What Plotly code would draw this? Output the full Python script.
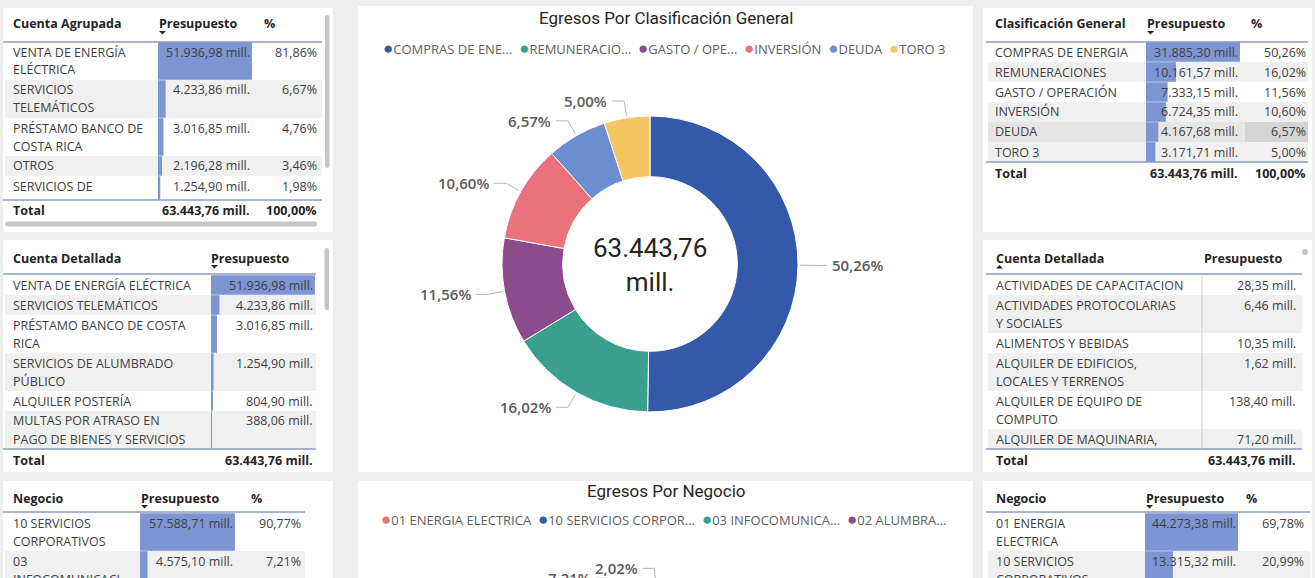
import math
import plotly.graph_objects as go

W, H = 1315, 578

# ---------------------------------------------------------------- data
TOTAL_PRESUPUESTO = 63443.76

agrupada_cuenta = ["VENTA DE ENERGÍA ELÉCTRICA", "SERVICIOS TELEMÁTICOS",
                   "PRÉSTAMO BANCO DE COSTA RICA", "OTROS",
                   "SERVICIOS DE ALUMBRADO PÚBLICO"]
agrupada_presupuesto = [51936.98, 4233.86, 3016.85, 2196.28, 1254.90]

detallada_cuenta = ["VENTA DE ENERGÍA ELÉCTRICA", "SERVICIOS TELEMÁTICOS",
                    "PRÉSTAMO BANCO DE COSTA RICA", "SERVICIOS DE ALUMBRADO PÚBLICO",
                    "ALQUILER POSTERÍA",
                    "MULTAS POR ATRASO EN PAGO DE BIENES Y SERVICIOS"]
detallada_presupuesto = [51936.98, 4233.86, 3016.85, 1254.90, 804.90, 388.06]

negocio_ing_nombre = ["10 SERVICIOS CORPORATIVOS", "03 INFOCOMUNICACIONES"]
negocio_ing_presupuesto = [57588.71, 4575.10]

clasif_nombre = ["COMPRAS DE ENERGIA", "REMUNERACIONES", "GASTO / OPERACIÓN",
                 "INVERSIÓN", "DEUDA", "TORO 3"]
clasif_presupuesto = [31885.30, 10161.57, 7333.15, 6724.35, 4167.68, 3171.71]
clasif_leyenda = ["COMPRAS DE ENE...", "REMUNERACIO...", "GASTO / OPE...",
                  "INVERSIÓN", "DEUDA", "TORO 3"]
clasif_color = ["#3559a9", "#3a9f8f", "#8b4b8c", "#e8737d", "#6b8fd0", "#f5c662"]

gasto_cuenta = ["ACTIVIDADES DE CAPACITACION", "ACTIVIDADES PROTOCOLARIAS Y SOCIALES",
                "ALIMENTOS Y BEBIDAS", "ALQUILER DE EDIFICIOS, LOCALES Y TERRENOS",
                "ALQUILER DE EQUIPO DE COMPUTO",
                "ALQUILER DE MAQUINARIA, EQUIPO Y MOBILIARIO"]
gasto_presupuesto = [28.35, 6.46, 10.35, 1.62, 138.40, 71.20]

negocio_nombre = ["01 ENERGIA ELECTRICA", "10 SERVICIOS CORPORATIVOS",
                  "03 INFOCOMUNICACIONES", "02 ALUMBRADO PUBLICO"]
negocio_presupuesto = [44273.38, 13315.32, 4575.10, 1279.96]
negocio_leyenda = ["01 ENERGIA ELECTRICA", "10 SERVICIOS CORPOR...",
                   "03 INFOCOMUNICA...", "02 ALUMBRA..."]
negocio_color = ["#e8737d", "#3559a9", "#3a9f8f", "#8b4b8c"]

# ---------------------------------------------------------------- style
FONT = "Segoe UI, Open Sans, sans-serif"
TITLE_FONT = "DIN, Roboto, sans-serif"
BG = "#eeeeee"
PANEL = "#ffffff"
ROW_ALT = "#f0f0f0"
BAR = "#7d95d3"
RULE = "#8d9abd"
TXT = "#404040"
HDR = "#252423"
MUTED = "#605e5c"
SCROLL = "#c6c6c6"
BODY_SIZE = 12.5

fig = go.Figure()
shapes, annotations, axes = [], [], {}


def fmt_es(v, dec=2):
    s = f"{v:,.{dec}f}"
    return s.replace(",", "_").replace(".", ",").replace("_", ".")


def fmt_mill(v):
    return fmt_es(v) + " mill."


def fmt_pct(p):
    return fmt_es(p) + "%"


# approximate glyph widths (em) used to wrap cell text
CHAR_EM = {" ": .27, ",": .25, ".": .25, "/": .4, "A": .67, "Á": .67, "B": .6,
           "C": .63, "D": .72, "E": .52, "É": .52, "F": .5, "G": .7, "H": .74,
           "I": .27, "Í": .27, "J": .35, "K": .6, "L": .48, "M": .9, "N": .76,
           "O": .77, "Ó": .77, "P": .58, "Q": .77, "R": .6, "S": .54, "T": .55,
           "U": .72, "Ú": .72, "V": .65, "W": .97, "X": .62, "Y": .58, "Z": .59}


def text_em(s):
    return sum(CHAR_EM.get(c, .55) for c in s)


def wrap(text, max_em):
    lines, cur = [], ""
    for word in text.split(" "):
        trial = word if not cur else cur + " " + word
        if text_em(trial) <= max_em:
            cur = trial
            continue
        if cur:
            lines.append(cur)
        while text_em(word) > max_em:
            cut = len(word)
            while cut > 1 and text_em(word[:cut]) > max_em:
                cut -= 1
            lines.append(word[:cut])
            word = word[cut:]
        cur = word
    if cur:
        lines.append(cur)
    return lines


def rect(x0, y0, x1, y1, color):
    shapes.append(dict(type="rect", xref="x", yref="y", x0=x0, y0=y0, x1=x1, y1=y1,
                       fillcolor=color, line=dict(width=0), layer="below"))


def hline(x0, x1, y, color=RULE, width=1.3):
    shapes.append(dict(type="line", xref="x", yref="y", x0=x0, x1=x1, y0=y, y1=y,
                       line=dict(color=color, width=width), layer="below"))


def vline(x, y0, y1, color="#c9cfdf", width=1):
    shapes.append(dict(type="line", xref="x", yref="y", x0=x, x1=x, y0=y0, y1=y1,
                       line=dict(color=color, width=width), layer="below"))


def pill(x0, y0, x1, y1, color=SCROLL):
    r = min(x1 - x0, y1 - y0) / 2
    path = (f"M{x0 + r},{y0} L{x1 - r},{y0} Q{x1},{y0} {x1},{y0 + r} "
            f"L{x1},{y1 - r} Q{x1},{y1} {x1 - r},{y1} L{x0 + r},{y1} "
            f"Q{x0},{y1} {x0},{y1 - r} L{x0},{y0 + r} Q{x0},{y0} {x0 + r},{y0} Z")
    shapes.append(dict(type="path", xref="x", yref="y", path=path, fillcolor=color,
                       line=dict(width=0), layer="below"))


def sort_arrow(x, y, down=True):
    if down:
        path = f"M{x},{y} L{x + 7},{y} L{x + 3.5},{y + 3.5} Z"
    else:
        path = f"M{x},{y + 3.5} L{x + 7},{y + 3.5} L{x + 3.5},{y} Z"
    shapes.append(dict(type="path", xref="x", yref="y", path=path, fillcolor=HDR,
                       line=dict(width=0), layer="below"))


def text(x, y, s, size=BODY_SIZE, color=TXT, anchor="left", family=FONT, weight="normal"):
    annotations.append(dict(xref="paper", yref="paper", x=x / W, y=1 - y / H, text=s,
                            showarrow=False, xanchor=anchor, yanchor="middle",
                            borderpad=0, align="center",
                            font=dict(family=family, size=size, color=color,
                                      weight=weight)))


# ---------------------------------------------------------------- panels
for x0, y0, x1, y1 in [(3, 8, 333, 232), (3, 240, 333, 472), (3, 481, 333, 600),
                       (358, 6, 973, 472), (358, 481, 973, 600),
                       (983, 8, 1312, 232), (983, 240, 1312, 472), (983, 481, 1312, 600)]:
    rect(x0, y0, x1, y1, PANEL)

# ---------------------------------------------------------------- tables
LINE_H, ROW_PAD = 18, 2
bar_axis_counter = [1]


def draw_table(names, values, lay, show_pct):
    """Table with a header, wrapped name column, value column (optional data
    bars) and optional percentage column; rows are clipped to the viewport."""
    hy = lay["header_y"]
    text(lay["name_x"], hy, lay["name_header"], color=HDR, weight="bold")
    text(lay["val_header_x"], hy, "Presupuesto", color=HDR, weight="bold")
    if show_pct:
        text(lay["pct_header_x"], hy, "%", color=HDR, weight="bold")
    ax_, dn = lay["arrow"]
    sort_arrow(ax_, hy + 7, down=dn)
    hline(lay["x0"], lay["x1"], lay["rule_y"])

    top, vp = lay["rows_top"], lay["vp_bottom"]
    centers, heights, bar_vals = [], [], []
    for i, (name, val) in enumerate(zip(names, values)):
        lines = wrap(name, lay["wrap_em"])
        h = ROW_PAD + LINE_H * len(lines)
        bottom = min(top + h, vp)
        if bottom <= top:
            break
        if i % 2 == 1:
            rect(lay["x0"] + 2, top, lay["x1"], bottom, ROW_ALT)
        if lay.get("hover_row") == i:
            rect(lay["x0"] + 2, top, lay["pct_header_x"] - 5, bottom, "#e6e6e6")
            rect(lay["pct_header_x"] - 5, top, lay["x1"], bottom, "#d4d4d4")
        for k, ln in enumerate(lines):
            cy = top + 10 + LINE_H * k
            if cy + 4 <= vp:
                text(lay["name_x"], cy, ln)
        text(lay["val_right"], top + 10, fmt_mill(val), anchor="right")
        if show_pct:
            text(lay["pct_right"], top + 10,
                 fmt_pct(val / TOTAL_PRESUPUESTO * 100), anchor="right")
        centers.append((top + bottom) / 2)
        heights.append(bottom - top - 0.5)
        bar_vals.append(val)
        top += h

    if lay.get("bars"):
        bar_axis_counter[0] += 1
        n = bar_axis_counter[0]
        bx0, bx1 = lay["bars"]
        axes[f"xaxis{n}"] = dict(domain=[bx0 / W, bx1 / W], range=[0, max(values)],
                                 visible=False, anchor="y", fixedrange=True)
        fig.add_trace(go.Bar(x=bar_vals, y=centers, width=heights, orientation="h",
                             xaxis=f"x{n}", yaxis="y", showlegend=False,
                             marker=dict(color=BAR, line=dict(width=0)),
                             hoverinfo="skip"))

    if lay.get("total_y"):
        hline(lay["x0"], lay["x1"], vp)
        text(lay["name_x"], lay["total_y"], "Total", color=HDR, weight="bold")
        text(lay["val_right"], lay["total_y"], fmt_mill(TOTAL_PRESUPUESTO),
             color=HDR, weight="bold", anchor="right")
        if show_pct:
            text(lay["pct_right"], lay["total_y"],
                 fmt_pct(TOTAL_PRESUPUESTO / TOTAL_PRESUPUESTO * 100),
                 color=HDR, weight="bold", anchor="right")


draw_table(agrupada_cuenta, agrupada_presupuesto, dict(
    name_header="Cuenta Agrupada", name_x=12, header_y=24, val_header_x=158,
    pct_header_x=263, arrow=(159, True), x0=3, x1=322, rule_y=42, rows_top=42,
    vp_bottom=200, total_y=211, wrap_em=10.9, val_right=251, pct_right=318,
    bars=(158, 252)), True)
pill(325, 15, 329.5, 168)
pill(5, 221.5, 317, 226.5)

draw_table(detallada_cuenta, detallada_presupuesto, dict(
    name_header="Cuenta Detallada", name_x=12, header_y=258, val_header_x=210,
    arrow=(211, True), x0=3, x1=316, rule_y=274, rows_top=275, vp_bottom=449,
    total_y=460, wrap_em=14.4, val_right=314, bars=(211, 315)), False)
pill(324.5, 248, 329, 310)

draw_table(negocio_ing_nombre, negocio_ing_presupuesto, dict(
    name_header="Negocio", name_x=12, header_y=498, val_header_x=140,
    pct_header_x=250, arrow=(141, True), x0=3, x1=305, rule_y=512, rows_top=513,
    vp_bottom=620, wrap_em=9.1, val_right=234, pct_right=302, bars=(140, 235)), True)

draw_table(clasif_nombre, clasif_presupuesto, dict(
    name_header="Clasificación General", name_x=994, header_y=24, val_header_x=1146,
    pct_header_x=1250, arrow=(1147, True), x0=986, x1=1308, rule_y=42, rows_top=42,
    vp_bottom=162, total_y=173, wrap_em=30, val_right=1239, pct_right=1307,
    bars=(1146, 1240), hover_row=4), True)

draw_table(gasto_cuenta, gasto_presupuesto, dict(
    name_header="Cuenta Detallada", name_x=995, header_y=258, val_header_x=1203,
    arrow=(996, False), x0=986, x1=1302, rule_y=274, rows_top=275, vp_bottom=449,
    total_y=460, wrap_em=15.16, val_right=1297), False)
vline(1202, 274, 449)
shapes.append(dict(type="circle", xref="x", yref="y", x0=1302, y0=249, x1=1308,
                   y1=255, fillcolor=SCROLL, line=dict(width=0), layer="below"))

draw_table(negocio_nombre[:2], negocio_presupuesto[:2], dict(
    name_header="Negocio", name_x=995, header_y=498, val_header_x=1145,
    pct_header_x=1245, arrow=(1146, True), x0=986, x1=1310, rule_y=512, rows_top=513,
    vp_bottom=620, wrap_em=9.1, val_right=1237, pct_right=1305, bars=(1145, 1238)), True)

# ---------------------------------------------------------------- donuts
R_OUT, HOLE = 148, 0.59
TOP_C = (650, 264)
BOTTOM_C = (665, 733)


def legend_text(labels, colors):
    return "&nbsp;&nbsp;".join(
        f'<span style="color:{c};font-size:17px">●</span>{l}'
        for l, c in zip(labels, colors))


def leader_labels(values, cx, cy, r):
    total = sum(values)
    xs, ys, cum = [], [], 0.0
    for v in values:
        mid = (cum + v / 2) / total
        cum += v
        th = 2 * math.pi * mid
        ux, uy = math.sin(th), -math.cos(th)
        p0 = (cx + (r + 2) * ux, cy + (r + 2) * uy)
        p1 = (cx + (r + 17) * ux, cy + (r + 17) * uy)
        side = 1 if ux >= 0 else -1
        p2 = (p1[0] + side * 12, p1[1])
        xs += [p0[0], p1[0], p2[0], None]
        ys += [p0[1], p1[1], p2[1], None]
        text(p2[0] + side * 4, p2[1], fmt_pct(v / total * 100), size=15,
             color="#5a5a5a", anchor="left" if side > 0 else "right", weight=600)
    fig.add_trace(go.Scatter(x=xs, y=ys, mode="lines", xaxis="x", yaxis="y",
                             line=dict(color="#b5b5b5", width=1), showlegend=False,
                             hoverinfo="skip"))


def ring_slices(values, colors, cx, cy, r):
    """Donut drawn as filled ring sectors on the pixel canvas."""
    total, cum = sum(values), 0.0
    r_in = r * HOLE
    for v, c in zip(values, colors):
        a0, a1 = 2 * math.pi * cum / total, 2 * math.pi * (cum + v) / total
        cum += v
        n = max(4, int(80 * v / total))
        outer = [a0 + (a1 - a0) * k / n for k in range(n + 1)]
        xs = [cx + r * math.sin(a) for a in outer] + [cx + r_in * math.sin(a) for a in outer[::-1]]
        ys = [cy - r * math.cos(a) for a in outer] + [cy - r_in * math.cos(a) for a in outer[::-1]]
        fig.add_trace(go.Scatter(x=xs + xs[:1], y=ys + ys[:1], mode="lines", fill="toself",
                                 fillcolor=c, line=dict(width=0.5, color="white"),
                                 xaxis="x", yaxis="y", showlegend=False, hoverinfo="skip"))


# top donut: Egresos por Clasificación General
cx, cy = TOP_C
fig.add_trace(go.Pie(values=clasif_presupuesto, labels=clasif_nombre, hole=HOLE,
                     sort=False, direction="clockwise", rotation=0, textinfo="none",
                     marker=dict(colors=clasif_color, line=dict(color="white", width=1)),
                     domain=dict(x=[(cx - R_OUT) / W, (cx + R_OUT) / W],
                                 y=[1 - (cy + R_OUT) / H, 1 - (cy - R_OUT) / H]),
                     showlegend=False, hoverinfo="label+value+percent"))
leader_labels(clasif_presupuesto, cx, cy, R_OUT)
text(cx, cy + 1, fmt_es(sum(clasif_presupuesto)) + "<br>mill.", size=26, color=HDR,
     anchor="center", family=TITLE_FONT)
text(666, 18, "Egresos Por Clasificación General", size=17, color=HDR,
     anchor="center", family=TITLE_FONT)
text(664, 47, legend_text(clasif_leyenda, clasif_color), size=13, color=MUTED,
     anchor="center")

# bottom donut: Egresos por Negocio (extends below the page)
bx, by = BOTTOM_C
ring_slices(negocio_presupuesto, negocio_color, bx, by, R_OUT)
leader_labels(negocio_presupuesto, bx, by, R_OUT)
text(666, 491, "Egresos Por Negocio", size=17, color=HDR, anchor="center",
     family=TITLE_FONT)
text(664, 518, legend_text(negocio_leyenda, negocio_color), size=13, color=MUTED,
     anchor="center")

# ---------------------------------------------------------------- layout
axes["xaxis"] = dict(domain=[0, 1], range=[0, W], visible=False, fixedrange=True)
axes["yaxis"] = dict(domain=[0, 1], range=[H, 0], visible=False, fixedrange=True)

fig.update_layout(width=W, height=H, margin=dict(l=0, r=0, t=0, b=0),
                  paper_bgcolor=BG, plot_bgcolor="rgba(0,0,0,0)",
                  barmode="overlay", shapes=shapes, annotations=annotations,
                  showlegend=False, **axes)

fig.write_html("out.html", config={"displayModeBar": False})
